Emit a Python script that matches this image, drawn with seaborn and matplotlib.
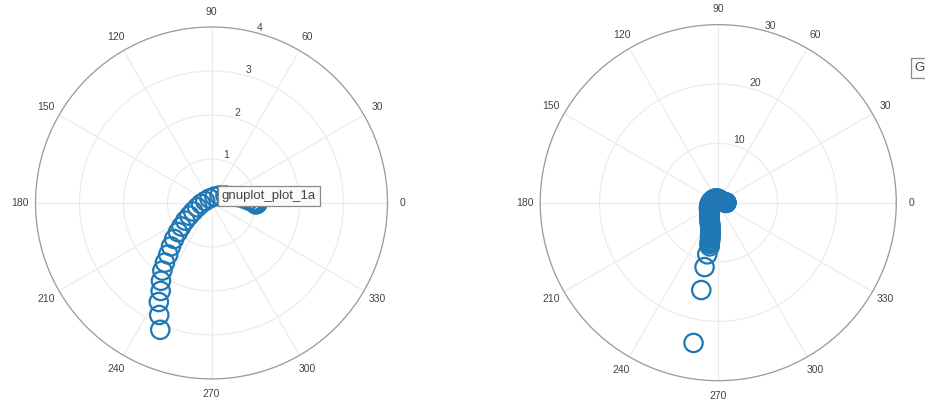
import numpy as np
import pandas as pd
import matplotlib
matplotlib.use("Agg")
import matplotlib.pyplot as plt
import seaborn as sns

# left polar panel (angle in degrees, radius)
theta_left = [248, 245, 242, 240, 237, 234, 232, 230, 227, 224, 221, 218, 214, 210,
              205, 197, 185, 163, 114, 65, 43, 28, 19, 13, 8, 4, 2, 1, 1, 0, 0, 0,
              359, 359, 0, 1, 0, 358]
r_left = [3.11, 2.81, 2.55, 2.31, 2.11, 1.90, 1.72, 1.53, 1.35, 1.18, 1.01, 0.87, 0.72, 0.58,
          0.46, 0.34, 0.24, 0.15, 0.11, 0.16, 0.25, 0.36, 0.48, 0.60, 0.73, 0.84, 0.92, 0.96,
          0.99, 1.00, 1.01, 1.02, 1.03, 1.04, 1.05, 1.03, 1.02, 1.01]

# right polar panel
theta_right = [260, 259, 258, 258, 259, 258, 258, 258, 257, 257, 257, 256, 256, 255, 255,
               254, 253, 252, 251, 250, 249, 248, 246, 245, 243, 241, 239, 237, 235, 232,
               229, 225, 220, 212, 204, 195, 186, 177, 165, 150, 133, 116, 103, 90, 76,
               62, 50, 40, 32, 25, 18, 12, 8, 5, 2, 0, 358, 359, 0, 1]
r_right = [24.0, 15.0, 11.1, 8.9, 7.5, 7.1, 6.8, 6.5, 6.2, 6.0, 5.8, 5.6, 5.35, 5.15, 4.95,
           4.75, 4.55, 4.35, 4.15, 4.0, 3.85, 3.7, 3.55, 3.4, 3.25, 3.1, 2.95, 2.8, 2.62,
           2.45, 2.3, 2.15, 2.0, 1.85, 1.7, 1.56, 1.43, 1.3, 1.17, 1.04, 0.92, 0.8, 0.72,
           0.64, 0.57, 0.5, 0.52, 0.55, 0.58, 0.6, 0.7, 0.8, 0.9, 1.0, 1.1, 1.2, 1.3,
           1.37, 1.37, 1.35]

left_ticks = [1, 2, 3, 4]
right_ticks = [10, 20, 30]
angle_ticks = list(range(0, 360, 30))
series_name = "gnuplot_plot_1a"

df_left = pd.DataFrame({"theta": np.deg2rad(theta_left), "r": r_left})
df_right = pd.DataFrame({"theta": np.deg2rad(theta_right), "r": r_right})

sns.set_style("white")
plt.rcParams["font.family"] = ["Liberation Sans", "DejaVu Sans"]

fig = plt.figure(figsize=(9.25, 4.01), dpi=100)
ax1 = fig.add_axes([0.0384, 0.0549, 0.3805, 0.878], projection="polar")
ax2 = fig.add_axes([0.584, 0.0506, 0.385, 0.888], projection="polar")

blue = "#1f77b4"
for ax, df, rticks in [(ax1, df_left, left_ticks), (ax2, df_right, right_ticks)]:
    sns.scatterplot(x="theta", y="r", data=df, ax=ax, color=blue, facecolor="none",
                    edgecolor=blue, linewidth=1.6, s=175, marker="o", legend=False)
    ax.set_xlabel("")
    ax.set_ylabel("")
    ax.set_ylim(0, rticks[-1])
    ax.set_yticks(rticks)
    ax.set_yticklabels([str(t) for t in rticks], fontsize=7.5, color="#444444")
    ax.set_rlabel_position(75)
    ax.set_xticks(np.deg2rad(angle_ticks))
    ax.set_xticklabels([str(a) for a in angle_ticks], fontsize=7.5, color="#444444")
    ax.tick_params(axis="x", pad=0.5)
    ax.grid(True, color="#ececec", linewidth=0.9)
    ax.spines["polar"].set_color("#9a9a9a")
    ax.spines["polar"].set_linewidth(0.9)

# hover tooltip over the left panel and the clipped one at the right edge
box = dict(boxstyle="square,pad=0.3", fc="#fafafa", ec="#8a8a8a", lw=0.9)
fig.text(222 / 925, 1 - 196 / 401, series_name, fontsize=9.5, color="#444444",
         va="center", ha="left", bbox=box)
fig.text(915 / 925, 1 - 68 / 401, "G      ", fontsize=9.5, color="#444444",
         va="center", ha="left", bbox=box)

fig.savefig("out.png", dpi=100)
